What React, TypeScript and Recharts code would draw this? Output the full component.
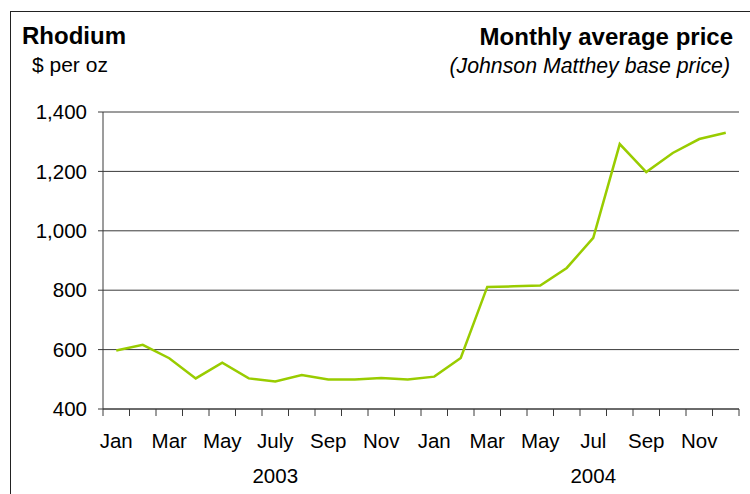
import React from 'react'
import { LineChart, Line, XAxis, YAxis, CartesianGrid } from 'recharts'

// Rhodium monthly average price, 2003-2004 ($ per oz)
const months = [
    'Jan', 'Feb', 'Mar', 'Apr', 'May', 'Jun', 'July', 'Aug', 'Sep', 'Oct', 'Nov', 'Dec',
    'Jan', 'Feb', 'Mar', 'Apr', 'May', 'Jun', 'Jul', 'Aug', 'Sep', 'Oct', 'Nov', 'Dec',
]
const years = [
    '2003', '2003', '2003', '2003', '2003', '2003', '2003', '2003', '2003', '2003', '2003', '2003',
    '2004', '2004', '2004', '2004', '2004', '2004', '2004', '2004', '2004', '2004', '2004', '2004',
]
const prices = [
    597, 616, 571, 503, 556, 503, 493, 514, 499, 499, 504, 499,
    509, 572, 811, 813, 816, 875, 976, 1292, 1198, 1262, 1309, 1330,
]
const yTicks = [400, 600, 800, 1000, 1200, 1400]

const data = months.map((m, i) => ({ key: `${m}-${years[i]}`, month: m, year: years[i], price: prices[i] }))

const W = 750
const H = 494
const FONT = '"Liberation Sans", Arial, sans-serif'
const AXIS = '#3a3a3a'
const GREEN = '#99CC00'
const MONTH_TICK = 7

const MonthTick = (props: any) => {
    const { x, y, payload, index } = props
    const half = payload?.offset ?? 13
    const axisY = y - MONTH_TICK
    const label = months[index]
    return (
        <g>
            <line x1={x - half} x2={x - half} y1={axisY} y2={axisY + MONTH_TICK} stroke={AXIS} />
            {index === months.length - 1 && (
                <line x1={x + half} x2={x + half} y1={axisY} y2={axisY + MONTH_TICK} stroke={AXIS} />
            )}
            {index % 2 === 0 && (
                <text x={x} y={axisY + 39} textAnchor="middle" fill="#000" fontSize={20.5} fontFamily={FONT}>
                    {label}
                </text>
            )}
        </g>
    )
}

const YearTick = (props: any) => {
    const { x, y, index } = props
    if (index % 12 !== 6) return <g />
    return (
        <text x={x} y={y + 34} textAnchor="middle" fill="#000" fontSize={20.5} fontFamily={FONT}>
            {years[index]}
        </text>
    )
}

const App = () => {
    return (
        <div style={{ position: 'absolute', left: 0, top: 0, width: W, height: H, overflow: 'hidden', background: '#fff' }}>
            <div
                style={{
                    position: 'absolute',
                    left: 10,
                    top: 11,
                    width: 800,
                    height: 600,
                    border: '1px solid #222',
                }}
            />
            <LineChart
                width={W}
                height={H}
                data={data}
                margin={{ top: 112, right: 11, bottom: 0, left: 0 }}
                style={{ position: 'absolute', left: 0, top: 0 }}
            >
                <CartesianGrid vertical={false} stroke={AXIS} strokeOpacity={1} />
                <XAxis
                    dataKey="key"
                    scale="band"
                    height={40}
                    interval={0}
                    tickLine={false}
                    tickSize={MONTH_TICK}
                    tickMargin={0}
                    axisLine={{ stroke: AXIS }}
                    tick={<MonthTick />}
                />
                <XAxis
                    xAxisId="year"
                    dataKey="key"
                    scale="band"
                    height={45}
                    interval={0}
                    tickLine={false}
                    tickSize={0}
                    tickMargin={0}
                    axisLine={false}
                    tick={<YearTick />}
                />
                <YAxis
                    width={103}
                    domain={[400, 1400]}
                    ticks={yTicks}
                    interval={0}
                    tickSize={5}
                    tickMargin={11}
                    axisLine={{ stroke: AXIS }}
                    tickLine={{ stroke: AXIS }}
                    tick={{ fill: '#000', fontSize: 20.5, fontFamily: FONT }}
                    tickFormatter={(v: number) => v.toLocaleString('en-US')}
                />
                <Line
                    type="linear"
                    dataKey="price"
                    stroke={GREEN}
                    strokeWidth={2.5}
                    dot={false}
                    activeDot={false}
                    isAnimationActive={false}
                />
            </LineChart>
            <svg width={W} height={H} style={{ position: 'absolute', left: 0, top: 0, pointerEvents: 'none' }}>
                <text x={22} y={44} fontSize={24} fontWeight="bold" fontFamily={FONT} fill="#000">Rhodium</text>
                <text x={32} y={72} fontSize={21} fontFamily={FONT} fill="#000">$ per oz</text>
                <text x={733} y={45} fontSize={24} fontWeight="bold" fontFamily={FONT} fill="#000" textAnchor="end">
                    Monthly average price
                </text>
                <text x={730} y={73} fontSize={21.3} fontStyle="italic" fontFamily={FONT} fill="#000" textAnchor="end">
                    (Johnson Matthey base price)
                </text>
            </svg>
        </div>
    )
}

export default App
